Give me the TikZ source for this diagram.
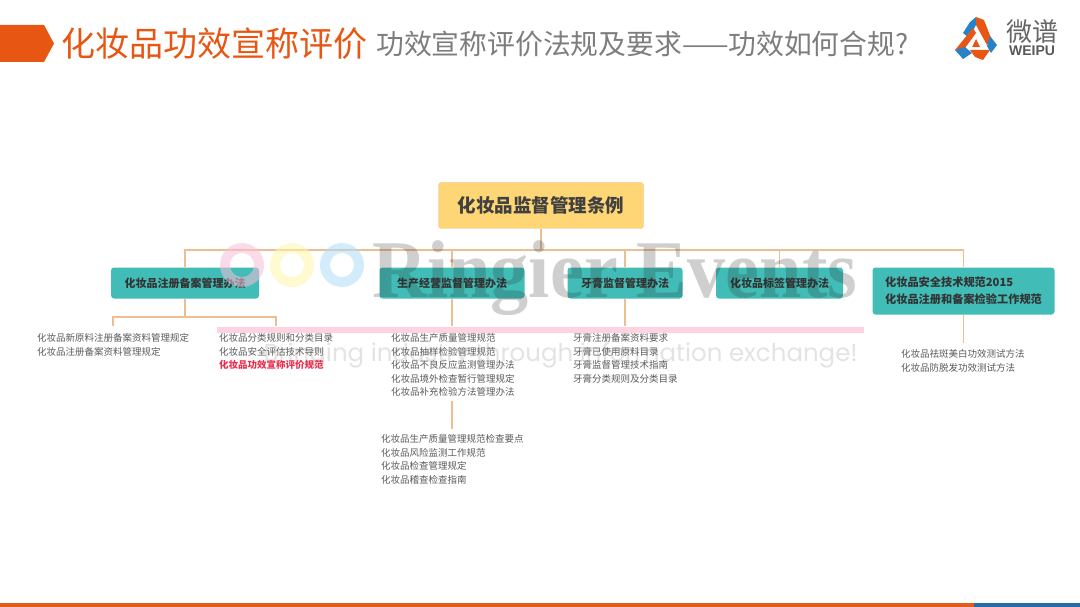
\documentclass[tikz,border=0pt]{standalone}
\usepackage{fontspec}
\setmainfont{Noto Sans CJK SC}
\newfontfamily\wmserif[FakeStretch=0.93]{Liberation Serif}
\newfontfamily\wmsans{Poppins}
\newfontfamily\logofont{Liberation Sans}
\definecolor{titleorange}{RGB}{232,86,20}
\definecolor{subgray}{RGB}{125,125,125}
\definecolor{lawgold}{RGB}{255,214,117}
\definecolor{linktan}{RGB}{236,190,145}
\definecolor{lawteal}{RGB}{66,188,182}
\definecolor{logoblue}{RGB}{40,130,200}
\definecolor{wmpink}{RGB}{246,190,215}
\definecolor{wmyellow}{RGB}{255,245,170}
\definecolor{wmblue}{RGB}{175,220,248}
\definecolor{keyred}{RGB}{235,45,75}
\usetikzlibrary{positioning,calc}

\begin{document}
\begin{tikzpicture}[
  x=1pt, y=-1pt,
  node distance=4pt,
  root/.style={draw=linktan, rounded corners=3pt, fill=lawgold, minimum width=205pt, minimum height=46pt, font=\fontsize{18.5}{20}\selectfont\bfseries, text=black!75},
  law/.style={rounded corners=3pt, fill=lawteal, minimum height=31pt, font=\fontsize{11}{13}\selectfont\bfseries, text=black!80},
  rule/.style={align=left, font=\fontsize{9.5}{13.5}\selectfont, text=black!65, inner sep=0pt},
  link/.style={linktan, line width=1.2pt},
]
\useasboundingbox (0,0) rectangle (1080,607);
% header
\fill[titleorange] (0,25) -- (44,25) -- (54,43.5) -- (44,62) -- (0,62) -- cycle;
\node[anchor=west, inner sep=0pt, text=titleorange, font=\fontsize{34}{38}\selectfont] (title) at (61,44) {化妆品功效宣称评价};
\node[anchor=west, inner sep=0pt, text=subgray, font=\fontsize{27.8}{30}\selectfont] (subtitle) at (376,44) {功效宣称评价法规及要求——功效如何合规?};
\fill[logoblue] (963,33) -- (970,22) -- (976,17) -- (976,25) -- (969,38) -- cycle;
\fill[titleorange] (976,17) -- (984,20) -- (991,38) -- (987,45) -- (976,25) -- cycle;
\fill[titleorange] (955,50) -- (973,28) -- (976,33) -- (965,48) -- cycle;
\fill[logoblue] (955,50) -- (965,47) -- (972,53) -- (963,59) -- cycle;
\fill[titleorange] (970,50) -- (990,50) -- (983,60) -- (975,57) -- cycle;
\fill[logoblue] (990,36) -- (997,45) -- (991,53) -- (987,46) -- cycle;
\fill[titleorange] (972,47) -- (980,47) -- (976,39) -- cycle;
\node[inner sep=0pt, text=black!60, font=\fontsize{26}{28}\selectfont] (logotext) at (1032,32) {微谱};
\node[inner sep=0pt, text=black!65, font=\logofont\fontsize{14}{15}\selectfont\bfseries] (logoen) at (1032,51) {WEIPU};
\fill[titleorange!85!brown] (0,603) rectangle (974,607);
\fill[logoblue!85!black] (974,603) rectangle (1080,607);
% boxes
\node[root] (regs) at (541,205.5) {化妆品监督管理条例};
\coordinate (bus) at (541,250);
\node[law, minimum width=148pt] (filing) at (185,283) {化妆品注册备案管理办法};
\node[law, minimum width=145pt] (prod) at (452,283) {生产经营监督管理办法};
\node[law, minimum width=115pt] (paste) at (625,283) {牙膏监督管理办法};
\node[law, minimum width=127pt] (label) at (779.5,283) {化妆品标签管理办法};
\node[law, minimum width=182pt, minimum height=47pt, align=left, font=\fontsize{11.2}{16.5}\selectfont\bfseries] (tech) at (963.5,291) {化妆品安全技术规范2015\\化妆品注册和备案检验工作规范};
% rules
\node[rule, anchor=north west] (r1) at (37,333.5) {化妆品新原料注册备案资料管理规定\\化妆品注册备案资料管理规定};
\node[rule, anchor=north west] (r2) at (219,333.5) {化妆品分类规则和分类目录\\化妆品安全评估技术导则\\\textcolor{keyred}{\bfseries 化妆品功效宣称评价规范}};
\node[rule, anchor=north west] (r3) at (391,333.5) {化妆品生产质量管理规范\\化妆品抽样检验管理规范\\化妆品不良反应监测管理办法\\化妆品境外检查暂行管理规定\\化妆品补充检验方法管理办法};
\node[rule, anchor=north west] (r4) at (381,434.5) {化妆品生产质量管理规范检查要点\\化妆品风险监测工作规范\\化妆品检查管理规定\\化妆品稽查检查指南};
\node[rule, anchor=north west] (r5) at (573,333.5) {牙膏注册备案资料要求\\牙膏已使用原料目录\\牙膏监督管理技术指南\\牙膏分类规则及分类目录};
\node[rule, anchor=north west] (r6) at (901,349.5) {化妆品祛斑美白功效测试方法\\化妆品防脱发功效测试方法};
% connectors
\draw[link] (regs.south) -- (bus);
\draw[link] (filing.north) |- (bus);
\draw[link] (tech.north) |- (bus);
\draw[link] (prod.north) -- (prod.north |- bus);
\draw[link] (paste.north) -- (paste.north |- bus);
\draw[link] (label.north) -- (label.north |- bus);
\coordinate (fork) at (113,317);
\draw[link] (filing.south) -- (185,317);
\draw[link] (113,326) -- (fork) -- (276,317) -- (276,326);
\draw[link] (prod.south) -- (452,326);
\draw[link] (452,401) -- (452,429);
\draw[link] (paste.south) -- (625,326);
\draw[link] (tech.south) -- (963.5,343);
% watermark on top
\begin{scope}[opacity=.55]
  \draw[line width=10pt, wmpink] (242,265) circle (17pt);
  \draw[line width=10pt, wmyellow] (292,265) circle (17pt);
  \draw[line width=10pt, wmblue] (342,265) circle (17pt);
\end{scope}
\begin{scope}[opacity=.22]
  \node[anchor=base west, inner sep=0pt, text=black!85, font=\wmserif\fontsize{82}{82}\selectfont\bfseries] (wmname) at (372,298) {Ringier Events};
  \node[anchor=base east, inner sep=0pt, text=black!50, font=\wmsans\fontsize{24.5}{26}\selectfont] (wmline) at (858,361) {Bringing industry through information exchange!};
\end{scope}
\fill[red!70!magenta, opacity=.17] (217,327) rectangle (864,333);
\end{tikzpicture}
\end{document}
